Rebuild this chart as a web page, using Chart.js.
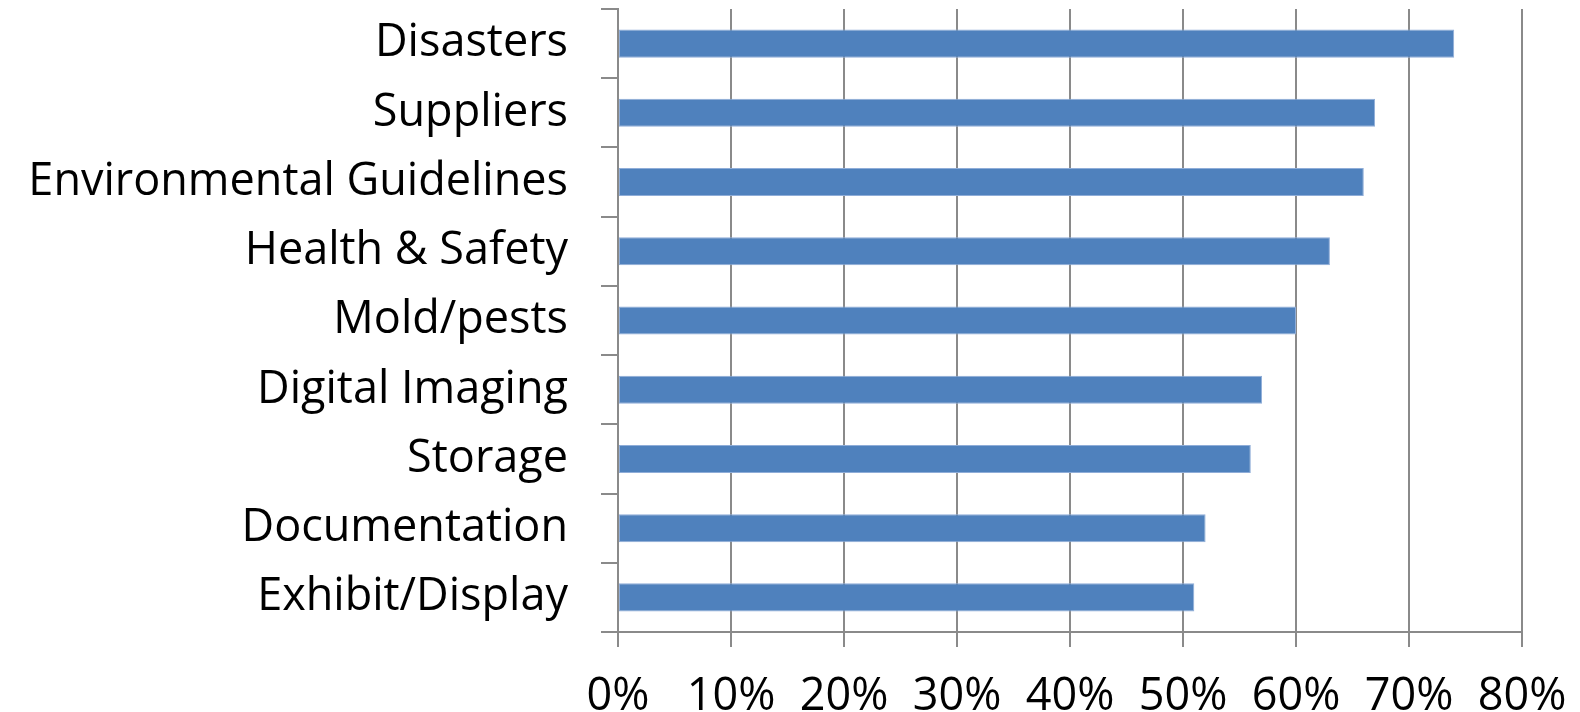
<!DOCTYPE html>
<html>
<head>
<meta charset="utf-8">
<title>Preservation topics</title>
<script src="https://cdn.jsdelivr.net/npm/chart.js"></script>
<style>
  html, body { margin: 0; padding: 0; background: #fff; }
  #grafico { display: block; }
</style>
</head>
<body>
<canvas id="grafico" width="1580" height="712"></canvas>
<script>
// Datos
const categorias = [
  'Disasters',
  'Suppliers',
  'Environmental Guidelines',
  'Health & Safety',
  'Mold/pests',
  'Digital Imaging',
  'Storage',
  'Documentation',
  'Exhibit/Display'
];
const porcentajes = [74, 67, 66, 63, 60, 57, 56, 52, 51];
const ticksX = [0, 10, 20, 30, 40, 50, 60, 70, 80];

const gris = '#8a8a8a';
const fuente = { family: 'Open Sans', size: 45 };

// quitar el relleno automático que Chart.js añade por las etiquetas
function sinRelleno(scale) {
  scale.paddingTop = 0;
  scale.paddingBottom = 0;
  scale.paddingLeft = 0;
  scale.paddingRight = 0;
}

const ctx = document.getElementById('grafico');
new Chart(ctx, {
  type: 'bar',
  data: {
    labels: categorias,
    datasets: [{
      data: porcentajes,
      backgroundColor: '#4F81BD',
      borderColor: '#8FADD8',
      borderWidth: 1,
      borderSkipped: false,
      categoryPercentage: 1,
      barPercentage: 0.405
    }]
  },
  options: {
    indexAxis: 'y',
    responsive: false,
    animation: false,
    devicePixelRatio: 1,
    layout: { padding: { top: 9, right: 58, left: 0, bottom: 0 } },
    plugins: { legend: { display: false }, tooltip: { enabled: false } },
    scales: {
      x: {
        min: ticksX[0],
        max: ticksX[ticksX.length - 1],
        afterBuildTicks: (scale) => { scale.ticks = ticksX.map(v => ({ value: v })); },
        afterFit: (scale) => { scale.height = 80; sinRelleno(scale); },
        grid: { color: gris, lineWidth: 2, tickLength: 15, drawTicks: true },
        border: { color: gris, width: 2 },
        ticks: {
          color: '#000',
          font: fuente,
          padding: 23,
          maxRotation: 0,
          callback: (v) => v + '%'
        }
      },
      y: {
        afterFit: (scale) => { scale.width = 618; sinRelleno(scale); },
        grid: { drawOnChartArea: false, color: gris, lineWidth: 2, tickLength: 17, offset: true },
        border: { color: gris, width: 2 },
        ticks: { color: '#000', font: fuente, padding: 33, autoSkip: false }
      }
    }
  }
});
</script>
</body>
</html>
